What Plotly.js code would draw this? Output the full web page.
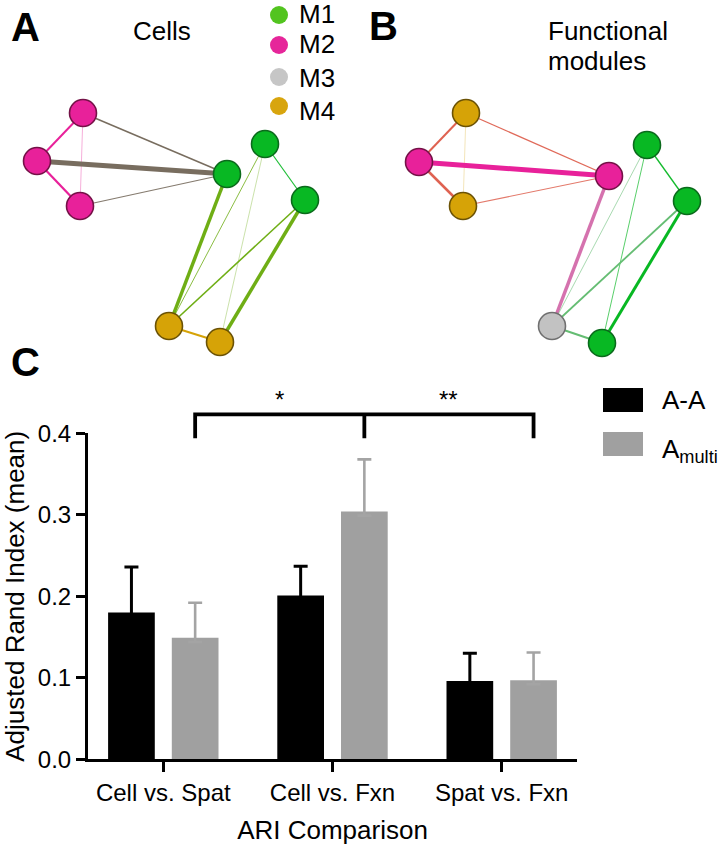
<!DOCTYPE html>
<html><head><meta charset="utf-8">
<script src="https://cdn.plot.ly/plotly-3.0.1.min.js"></script>
<style>html,body{margin:0;padding:0;background:#fff}#chart{width:720px;height:845px}</style>
</head><body><div id="chart"></div>
<script>
// ---------------- Panel C data ----------------
const categories = ['Cell vs. Spat', 'Cell vs. Fxn', 'Spat vs. Fxn'];
const seriesNames = ['A-A', 'A<sub>multi</sub>'];
const meanAA = [0.180, 0.201, 0.096];
const errAA = [0.056, 0.036, 0.034];
const meanMulti = [0.149, 0.304, 0.097];
const errMulti = [0.043, 0.064, 0.034];
const yTickVals = [0, 0.1, 0.2, 0.3, 0.4];
const yTickText = ['0.0', '0.1', '0.2', '0.3', '0.4'];
const sigLabels = ['*', '**'];          // between neighbouring A_multi bars
const xTitle = 'ARI Comparison';
const yTitle = 'Adjusted Rand Index (mean)';

// ---------------- Panels A / B data ----------------
const moduleNames = ['M1', 'M2', 'M3', 'M4'];
// A: Cells
const nodesA_x = [83, 37, 80, 227, 265, 305, 169, 220];
const nodesA_y = [113, 161, 206, 174, 144, 200, 326, 342];
const nodesA_mod = [1, 1, 1, 0, 0, 0, 3, 3];
const edgesA_from = [0, 1, 0, 0, 1, 2, 4, 3, 4, 4, 5, 5, 6];
const edgesA_to   = [1, 2, 2, 3, 3, 3, 5, 6, 6, 7, 6, 7, 7];
const edgesA_w    = [2, 2.2, 0.6, 1.5, 5, 1.2, 1.2, 3.5, 1, 0.6, 1.6, 3.5, 2];
// B: Functional modules
const nodesB_x = [466, 419, 463, 609, 647, 687, 552, 602];
const nodesB_y = [113, 162, 206, 176, 145, 201, 326, 343];
const nodesB_mod = [3, 1, 3, 1, 0, 0, 2, 0];
const edgesB_from = [0, 1, 0, 0, 1, 2, 3, 4, 4, 4, 5, 5, 6];
const edgesB_to   = [1, 2, 2, 3, 3, 3, 6, 6, 7, 5, 6, 7, 7];
const edgesB_w    = [2, 2.5, 0.5, 1.3, 5, 1.1, 3.5, 0.8, 0.9, 1.3, 1.8, 3, 2];

// ---------------- styles ----------------
const FONT = 'Liberation Sans, Arial, Helvetica, sans-serif';
const MOD_FILL = ['#08b823', '#e8219a', '#c2c2c2', '#d6a307'];
const MOD_LINE = ['#0b6a1c', '#741247', '#707070', '#6b5205'];
const LEG_FILL = ['#52c41f', '#e6269a', '#c6c6c6', '#d8a50e'];
const W = 720, H = 845;
const px = x => x / W, py = y => 1 - y / H;
const xDom = [px(88), px(577)];
const yDom = [py(759.3), py(433.3)];
const yMax = 0.4;
const yExtTop = py(372);
const yExtRange = yMax * (yExtTop - yDom[0]) / (yDom[1] - yDom[0]);
const XR = [-0.445, 2.445];
const BARGAP = 0.247, BARGROUPGAP = 0.267;
const multiOff = (1 - BARGAP) / 4;
const BRACKET_Y = 0.4233, BRACKET_TIP = 0.394, STAR_Y = 0.442;
const SHOE_HIDE = 0.005;   // pushes the lower error cap inside the bar so only the upper cap shows

function hex(c){return [1,3,5].map(i=>parseInt(c.substr(i,2),16));}
function mix(a,b){const A=hex(a),B=hex(b);return 'rgb('+A.map((v,i)=>Math.round((v+B[i])/2)).join(',')+')';}

function networkTraces(nx, ny, nm, ef, et, ew){
  const tr = ef.map((a,i)=>{const b=et[i];return {
    type:'scatter', mode:'lines', x:[nx[a],nx[b]], y:[ny[a],ny[b]], xaxis:'x3', yaxis:'y3',
    line:{color:mix(MOD_FILL[nm[a]],MOD_FILL[nm[b]]), width:ew[i]},
    opacity:Math.min(1,0.3+0.5*ew[i]), hoverinfo:'skip', showlegend:false};});
  tr.push({type:'scatter', mode:'markers', x:nx, y:ny, xaxis:'x3', yaxis:'y3', cliponaxis:false,
    marker:{size:27, color:nm.map(m=>MOD_FILL[m]), line:{color:nm.map(m=>MOD_LINE[m]), width:1.6}},
    hoverinfo:'skip', showlegend:false});
  return tr;
}

const data = [];
data.push(...networkTraces(nodesA_x,nodesA_y,nodesA_mod,edgesA_from,edgesA_to,edgesA_w));
data.push(...networkTraces(nodesB_x,nodesB_y,nodesB_mod,edgesB_from,edgesB_to,edgesB_w));

data.push({type:'bar', x:categories, y:meanAA, name:seriesNames[0], xaxis:'x', yaxis:'y',
  marker:{color:'#000000', line:{width:0}},
  error_y:{type:'data', symmetric:false, array:errAA, arrayminus:errAA.map(()=>SHOE_HIDE), color:'#000000', thickness:3, width:7},
  showlegend:false, hoverinfo:'skip'});
data.push({type:'bar', x:categories, y:meanMulti, name:seriesNames[1], xaxis:'x', yaxis:'y',
  marker:{color:'#a0a0a0', line:{width:0}},
  error_y:{type:'data', symmetric:false, array:errMulti, arrayminus:errMulti.map(()=>SHOE_HIDE), color:'#a4a4a4', thickness:2.6, width:7},
  showlegend:false, hoverinfo:'skip'});

// significance bracket joining the A_multi bars
const bx = categories.map((c,i)=>i+multiOff);
data.push({type:'scatter', mode:'lines', xaxis:'x2', yaxis:'y2',
  x:[bx[0],bx[0],bx[2],bx[2]], y:[BRACKET_TIP,BRACKET_Y,BRACKET_Y,BRACKET_TIP],
  line:{color:'#000', width:3.8}, hoverinfo:'skip', showlegend:false});
data.push({type:'scatter', mode:'lines', xaxis:'x2', yaxis:'y2',
  x:[bx[1],bx[1]], y:[BRACKET_Y,BRACKET_TIP],
  line:{color:'#000', width:3.8}, hoverinfo:'skip', showlegend:false});

const ann = [];
function txt(text,x,y,size,opts){ann.push(Object.assign({text:text,x:x,y:y,xref:'paper',yref:'paper',
  showarrow:false,xanchor:'center',yanchor:'middle',font:{family:FONT,size:size,color:'#000'}},opts||{}));}
txt('<b>A</b>',px(25),py(27),40);
txt('<b>B</b>',px(383),py(26),40);
txt('<b>C</b>',px(26),py(362),40);
txt('Cells',px(162),py(31),26);
txt('Functional',px(546),py(31),26,{xanchor:'left'});
txt('modules',px(546),py(61),26,{xanchor:'left'});
const legTextY = [14, 44, 77.5, 111];
const legDotY = [15, 45, 77, 106];
moduleNames.forEach((m,i)=>txt(m,px(297),py(legTextY[i]),26,{xanchor:'left'}));
txt(seriesNames[0],px(660),py(400),26,{xanchor:'left'});
txt(seriesNames[1],px(660),py(450),26,{xanchor:'left'});
sigLabels.forEach((s,i)=>ann.push({text:s,x:(bx[i]+bx[i+1])/2,y:STAR_Y,xref:'x2',yref:'y2',showarrow:false,
  xanchor:'center',yanchor:'middle',font:{family:FONT,size:24,color:'#000'}}));

const shapes = [];
moduleNames.forEach((m,i)=>shapes.push({type:'circle',xref:'paper',yref:'paper',
  x0:px(270),x1:px(288),y0:py(legDotY[i]-9),y1:py(legDotY[i]+9),fillcolor:LEG_FILL[i],line:{width:0}}));
shapes.push({type:'rect',xref:'paper',yref:'paper',x0:px(603),x1:px(643),y0:py(412),y1:py(388),fillcolor:'#000',line:{width:0}});
shapes.push({type:'rect',xref:'paper',yref:'paper',x0:px(603),x1:px(643),y0:py(456),y1:py(432),fillcolor:'#a0a0a0',line:{width:0}});

const layout = {
  width:W, height:H, margin:{l:0,r:0,t:0,b:0},
  paper_bgcolor:'#ffffff', plot_bgcolor:'rgba(0,0,0,0)',
  font:{family:FONT,color:'#000'},
  showlegend:false, barmode:'group', bargap:BARGAP, bargroupgap:BARGROUPGAP,
  xaxis:{domain:xDom, anchor:'y', type:'category', range:XR, showline:true, linewidth:3, linecolor:'#000',
    ticks:'outside', ticklen:10, tickwidth:3, tickcolor:'#000', showgrid:false, zeroline:false, fixedrange:true,
    tickfont:{family:FONT,size:24,color:'#000'},
    title:{text:xTitle, font:{family:FONT,size:26,color:'#000'}, standoff:18}},
  yaxis:{domain:yDom, anchor:'x', range:[0,yMax], tickvals:yTickVals, ticktext:yTickText, showline:true, linewidth:3,
    linecolor:'#000', ticks:'outside', ticklen:9, tickwidth:3, tickcolor:'#000', showgrid:false, zeroline:false,
    fixedrange:true, tickfont:{family:FONT,size:24,color:'#000'},
    title:{text:yTitle, font:{family:FONT,size:26,color:'#000'}, standoff:16}},
  xaxis2:{domain:xDom, anchor:'y2', range:XR, visible:false, fixedrange:true},
  yaxis2:{domain:[yDom[0], yExtTop], anchor:'x2', range:[0,yExtRange], visible:false, fixedrange:true},
  xaxis3:{domain:[0,1], anchor:'y3', range:[0,720], visible:false, fixedrange:true},
  yaxis3:{domain:[py(370),1], anchor:'x3', range:[370,0], visible:false, fixedrange:true},
  annotations:ann, shapes:shapes
};
Plotly.newPlot('chart', data, layout, {displayModeBar:false, staticPlot:true});
</script></body></html>
